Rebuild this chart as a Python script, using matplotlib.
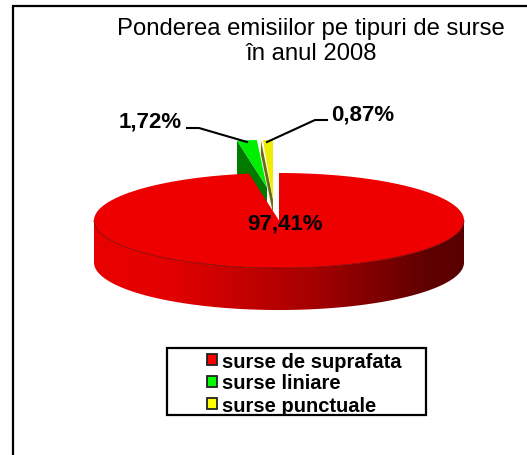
from __future__ import annotations

import matplotlib

matplotlib.use("Agg")

import matplotlib.pyplot as plt
import numpy as np
from matplotlib.colors import LinearSegmentedColormap
from matplotlib.patches import Polygon, Rectangle

WIDTH, HEIGHT = 527, 455

TITLE = "Ponderea emisiilor pe tipuri de surse\nîn anul 2008"
CATEGORIES = ["surse de suprafata", "surse liniare", "surse punctuale"]
VALUES = [97.41, 1.72, 0.87]
VALUE_LABELS = ["97,41%", "1,72%", "0,87%"]
TOP_COLORS = ["#ee0000", "#00ee00", "#eeee00"]
WALL_COLORS = ["#ee0000", "#007a00", "#6b6b10"]
LEGEND_COLORS = ["#ff0000", "#00ff00", "#ffff00"]

CX, CY, RX, RY, DEPTH = 279, 220.5, 185, 47.5, 42
EXPLODE = [(0, 0), (-12, -33), (-6, -33)]


def rim(start, end, n=200):
    theta = np.radians(np.linspace(start, end, n))
    return RX * np.sin(theta), -RY * np.cos(theta)


def draw_exploded(ax, start, end, off, top, wall, apex_drop=0, wall_depth=DEPTH, wall_shift=0):
    ox, oy = CX + off[0], CY + off[1]
    x, y = rim(start, end, 20)
    # cut face on the left, then the top face
    ax.add_patch(Polygon(
        [
            (ox + x[0] + wall_shift, oy + y[0]),
            (ox, oy + apex_drop),
            (ox, oy + apex_drop + wall_depth),
            (ox + x[0] + wall_shift, oy + y[0] + wall_depth),
        ],
        closed=True, fc=wall, ec="none", zorder=2,
    ))
    pts = np.column_stack([ox + x, oy + y])
    ax.add_patch(Polygon(np.vstack([[ox, oy + apex_drop], pts]), closed=True, fc=top, ec="none", zorder=3))


def draw_main(ax, angle):
    # side wall with the left to right shading
    x, y = rim(90, 270)
    side = np.vstack([
        np.column_stack([CX + x, CY + y]),
        np.column_stack([CX + x[::-1], CY + y[::-1] + DEPTH]),
    ])
    clip = Polygon(side, closed=True, fc="none", ec="none", transform=ax.transData, zorder=4)
    ax.add_patch(clip)
    cmap = LinearSegmentedColormap.from_list("wall", [
        (0.0, "#e80000"), (0.2, "#e40000"), (0.6, "#a40000"), (0.9, "#600000"), (1.0, "#580000"),
    ])
    grad = np.linspace(0, 1, 256).reshape(1, -1)
    im = ax.imshow(grad, cmap=cmap, extent=(CX - RX, CX + RX, CY + RY + DEPTH + 2, CY - 2),
                   aspect="auto", zorder=4)
    im.set_clip_path(clip)

    x, y = rim(0, angle, 400)
    pts = np.vstack([[CX, CY], np.column_stack([CX + x, CY + y])])
    ax.add_patch(Polygon(pts, closed=True, fc=TOP_COLORS[0], ec="none", zorder=5))
    x, y = rim(90, 270)
    ax.plot(CX + x, CY + y, color="#700000", lw=0.5, zorder=6)


def main() -> None:
    plt.rcParams["font.family"] = ["Liberation Sans", "DejaVu Sans"]
    fig = plt.figure(figsize=(WIDTH / 100, HEIGHT / 100), dpi=100, facecolor="white")
    ax = fig.add_axes([0, 0, 1, 1])
    ax.set_xlim(0, WIDTH)
    ax.set_ylim(HEIGHT, 0)
    ax.axis("off")

    # chart frame, only top and left fall inside the picture
    ax.plot([12.5, 12.5, WIDTH], [HEIGHT, 6, 6], color="black", lw=1.6,
            solid_joinstyle="miter", zorder=1)

    ax.text(311, 41.5, TITLE, ha="center", va="center", fontsize=17.2, linespacing=1.2,
            color="black", zorder=10)

    # sweep angles clockwise from 12 o'clock
    sweeps = np.array(VALUES) / sum(VALUES) * 360
    green_start = sweeps[0]
    yellow_start = green_start + sweeps[1]
    draw_exploded(ax, green_start - 360, yellow_start - 360, EXPLODE[1], TOP_COLORS[1], WALL_COLORS[1])
    draw_exploded(ax, yellow_start - 360, 0, EXPLODE[2], TOP_COLORS[2], WALL_COLORS[2],
                  apex_drop=12, wall_depth=14, wall_shift=-2)
    draw_main(ax, sweeps[0])

    # value labels and leader lines
    ax.text(285, 224, VALUE_LABELS[0], ha="center", va="center", fontsize=16, fontweight="bold", zorder=10)
    ax.text(150, 122, VALUE_LABELS[1], ha="center", va="center", fontsize=16, fontweight="bold", zorder=10)
    ax.text(363, 115, VALUE_LABELS[2], ha="center", va="center", fontsize=16, fontweight="bold", zorder=10)
    ax.plot([187, 199, 247], [128, 128, 142], color="black", lw=1.5, zorder=10)
    ax.plot([327, 315, 267], [120, 120, 142], color="black", lw=1.5, zorder=10)

    # legend
    ax.add_patch(Rectangle((167, 347.5), 259, 67.5, fc="white", ec="black", lw=1.6, zorder=7))
    swatch_y = [359, 381.5, 403]
    text_y = [362, 383.5, 407]
    for name, color, sy, ty in zip(CATEGORIES, LEGEND_COLORS, swatch_y, text_y):
        ax.add_patch(Rectangle((207, sy - 5.5), 10, 11, fc=color, ec="#222222", lw=1.3, zorder=8))
        ax.text(222, ty, name, ha="left", va="center", fontsize=14.5, fontweight="bold", zorder=8)

    fig.savefig("out.png", dpi=100)
    plt.close(fig)


if __name__ == "__main__":
    main()
